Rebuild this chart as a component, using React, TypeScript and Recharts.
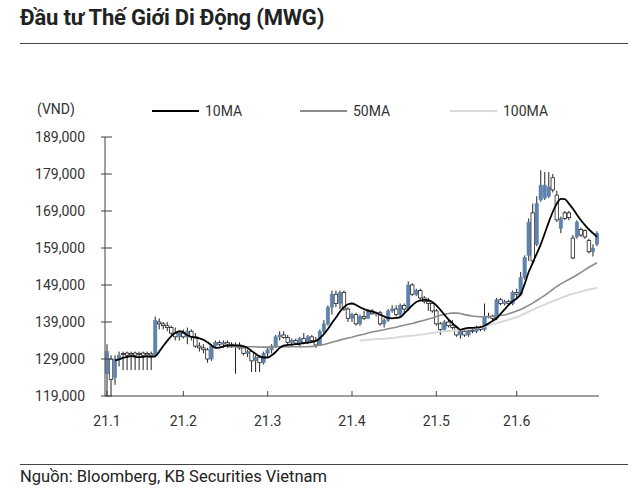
import React from 'react'
import { ComposedChart, Bar, Line, XAxis, YAxis } from 'recharts'

// daily prices, thousand VND
const open = [
    125, 129, 124, 129, 130.5, 130.6, 130.5, 130.6, 130.5, 130.6, 130.5, 130.4, 130, 139, 138.5, 138, 137.5, 136, 135, 136,
    135, 136.5, 135, 132.5, 132, 131.5, 129, 132.5, 133.5, 133, 133.5, 133, 132.5, 132.8, 132, 130.5, 131, 128.5, 129.5, 128, 130.5,
    131.5, 132.5, 135, 135.5, 134.8, 133.5, 134, 133.3, 134.5, 133.5, 135, 134, 132.8, 136.5, 138.5, 143, 146.5, 144, 147, 142.5,
    140, 141, 138.5, 140.5, 140, 142, 141.2, 141.5, 138.5, 139.5, 142, 142.5, 141, 143.5, 142.5, 149, 146.5, 147.5, 145.5, 144.5, 144,
    142, 138.5, 137, 139, 138, 137.5, 135.5, 136.5, 135.5, 136.8, 136.5, 137.5, 137, 140.5, 140.5, 140, 145, 144, 144.5, 144, 147,
    146.5, 151, 157, 168.5, 160, 172, 172.5, 173, 178, 173.3, 164.3, 168.5, 168.5, 161.7, 162, 164, 163.7, 161, 158, 160
]
const high = [
    133, 130, 130, 131, 131, 131, 131, 131, 131, 131, 131, 131, 140.5, 140, 139, 139, 138, 137.5, 136.5, 137,
    137.5, 137, 136, 133.5, 133, 132, 133, 134, 134, 134, 134, 133.5, 133.5, 133.5, 132.5, 131.5, 131.5, 130, 130, 131, 132,
    133, 135.5, 136.5, 136.5, 135.5, 134.5, 134.5, 135, 136, 135.5, 135.5, 135, 137, 139.5, 143.5, 147.5, 147.5, 147.5, 147.5, 143,
    141.5, 141.5, 141, 142, 142.5, 142.5, 141.8, 142, 140, 142.5, 143.5, 143.5, 144, 144, 150, 149.5, 148, 148, 146, 145.5, 144.5,
    142.5, 139, 139.5, 139.5, 139.5, 138, 137, 137, 137, 137.5, 138, 138, 144, 141.5, 141, 145.5, 145.5, 145, 145, 147.5, 148,
    152.5, 157, 167, 171, 173, 180, 179.5, 179.5, 179, 174.5, 167.5, 169, 169, 162.5, 166.5, 164.5, 164, 161.5, 160, 163.5
]
const low = [
    119, 119, 122, 127, 126, 126, 126, 126, 126, 126, 126, 126, 129.5, 137, 137, 136.5, 135.5, 134, 134, 134.5,
    133, 134, 132, 131, 130.5, 128, 128.5, 132, 132.5, 132, 132, 132, 125, 131.5, 130, 129.5, 125.5, 125.5, 125.5, 127.5, 129.5,
    130.5, 132, 134, 134.5, 133, 132.5, 133, 132.5, 133, 133, 133.5, 132, 132.5, 136, 138, 141, 143, 142.5, 142, 139,
    139, 138, 138, 139.5, 140, 141, 140.5, 138, 137.5, 139, 141.5, 140.5, 140.5, 141.5, 142, 146, 146, 145, 144, 142, 141.5,
    138, 135.5, 136.5, 137.5, 137, 135, 134.5, 135, 135, 136, 136, 136.5, 136.5, 140, 139.5, 139.5, 143.5, 143.5, 143.5, 143.5, 145,
    146, 150.5, 155.5, 154.5, 159.5, 171.5, 172, 172.5, 174, 166, 163, 166.5, 166.5, 156, 161.5, 162, 161.5, 157.5, 156.7, 159.5
]
const close = [
    131, 123.5, 129, 130, 130.2, 130, 130.1, 130, 130.2, 130, 130.1, 130, 139.5, 138.5, 138, 137.5, 136, 135, 136, 135,
    136.5, 135, 132.5, 132, 131.5, 129, 132.5, 133.5, 133, 133.5, 133, 132.5, 132.8, 132, 130.5, 131, 128.5, 129.5, 128, 130.5, 131.5,
    132.5, 135, 135.5, 134.8, 133.5, 134, 133.3, 134.5, 133.5, 135, 134, 132.8, 136.5, 138.5, 143, 146.5, 144, 147, 142.5, 140,
    141, 138.5, 140.5, 140, 142, 141.2, 141.5, 138.5, 139.5, 142, 142.5, 141, 143.5, 142.5, 149, 146.5, 147.5, 145.5, 144.5, 144, 142,
    138.5, 137, 139, 138, 137.5, 135.5, 136.5, 135.5, 136.8, 136.5, 137.5, 137, 140.5, 140.5, 140, 145, 144, 144.5, 144, 147, 146.5,
    151, 156.5, 166, 155.5, 171, 176, 176, 175.5, 174.7, 166.6, 167, 167, 167.2, 156.3, 166, 162.5, 162, 158, 159, 163
]

// moving averages
const ma10 = [
    null, null, 128.6, 128.9, 129.3, 129.6, 129.8, 129.6, 129.5, 129.6, 129.7, 129.6, 129.7, 131.0, 132.5, 133.9, 135.2, 136.0, 136.5, 136.2,
    135.4, 135.0, 134.8, 134.6, 134.2, 133.5, 132.7, 132.0, 132.1, 132.4, 132.6, 132.7, 132.7, 132.6, 132.5, 132.0, 131.2, 130.4, 129.7, 129.4, 129.4,
    130.0, 130.9, 132.0, 132.6, 132.8, 132.9, 133.0, 133.1, 133.3, 133.4, 133.6, 133.9, 134.6, 135.7, 137.1, 138.7, 140.2, 141.8, 143.0, 143.8,
    144.0, 143.6, 143.0, 142.5, 142.1, 141.8, 141.5, 141.0, 140.5, 140.1, 140.0, 140.1, 140.3, 141.3, 142.4, 143.5, 144.4, 144.8, 145.0, 144.9, 144.4,
    143.5, 142.3, 141.0, 139.7, 138.7, 137.7, 136.9, 137.2, 137.4, 137.4, 137.5, 137.6, 138.0, 138.6, 139.3, 140.0, 141.2, 142.4, 143.6, 144.6, 145.4,
    146.5, 149.3, 152.5, 155.0, 157.5, 160.0, 163.0, 166.0, 168.8, 171.0, 172.3, 172.2, 171.0, 169.6, 168.0, 166.5, 165.2, 164.0, 163.0, 162.0
]
const ma50 = [
    null, null, null, null, null, null, null, null, null, null, null, null, null, null, null, null, null, null, null, null,
    null, null, null, null, null, null, null, null, null, null, 132.3, 132.3, 132.3, 132.3, 132.3, 132.3, 132.3, 132.3, 132.2, 132.2, 132.2,
    132.2, 132.3, 132.3, 132.3, 132.3, 132.3, 132.3, 132.3, 132.3, 132.3, 132.4, 132.5, 132.7, 132.9, 133.2, 133.5, 133.8, 134.1, 134.4, 134.7,
    134.9, 135.2, 135.5, 135.7, 136.0, 136.3, 136.5, 136.7, 136.9, 137.2, 137.4, 137.6, 137.9, 138.1, 138.4, 138.6, 138.9, 139.2, 139.5, 139.8, 140.1,
    140.5, 140.8, 141.1, 141.3, 141.4, 141.4, 141.3, 141.0, 140.8, 140.6, 140.5, 140.4, 140.4, 140.5, 140.6, 140.7, 140.8, 140.9, 141.2, 141.6, 142.0,
    142.4, 142.9, 143.5, 144.1, 144.8, 145.5, 146.2, 147.0, 147.8, 148.6, 149.3, 149.9, 150.5, 151.1, 151.7, 152.4, 153.1, 153.8, 154.4, 155.0
]
const ma100 = [
    null, null, null, null, null, null, null, null, null, null, null, null, null, null, null, null, null, null, null, null,
    null, null, null, null, null, null, null, null, null, null, null, null, null, null, null, null, null, null, null, null, null,
    null, null, null, null, null, null, null, null, null, null, null, null, null, null, null, null, null, null, null, null,
    null, null, 134.0, 134.1, 134.2, 134.3, 134.4, 134.4, 134.5, 134.6, 134.7, 134.8, 135.0, 135.1, 135.2, 135.3, 135.4, 135.6, 135.7, 135.9, 136.0,
    136.2, 136.4, 136.5, 136.6, 136.7, 136.8, 136.9, 137.0, 137.1, 137.3, 137.4, 137.6, 137.8, 138.1, 138.4, 138.7, 139.0, 139.3, 139.6, 140.0, 140.3,
    140.8, 141.3, 141.8, 142.3, 142.8, 143.3, 143.7, 144.2, 144.6, 145.0, 145.5, 145.9, 146.3, 146.6, 146.9, 147.2, 147.5, 147.8, 148.0, 148.2
]

// month labels on the x axis (index of the first session shown)
const monthIdx = [0, 19, 40, 61, 82, 102]
const monthLabels = ['21.1', '21.2', '21.3', '21.4', '21.5', '21.6']
const yTicks = [119000, 129000, 139000, 149000, 159000, 169000, 179000, 189000]

const BLUE = '#5f83ad'
const AXIS = '#404040'
const FONT = 'Roboto, "Noto Sans", sans-serif'

const rows = open.map((o, i) => ({
    i,
    open: o * 1000,
    high: high[i] * 1000,
    low: low[i] * 1000,
    close: close[i] * 1000,
    range: [low[i] * 1000, high[i] * 1000],
    ma10: ma10[i] == null ? null : (ma10[i] as number) * 1000,
    ma50: ma50[i] == null ? null : (ma50[i] as number) * 1000,
    ma100: ma100[i] == null ? null : (ma100[i] as number) * 1000
}))

// candle drawn inside the [low, high] bar box
function Candle(props: any) {
    const { x, y, width, height, payload } = props
    if (x == null || y == null) return null
    const top = Math.min(y, y + height)
    const h = Math.abs(height)
    const span = payload.high - payload.low
    const k = span > 0 ? h / span : 0
    const yO = top + (payload.high - payload.open) * k
    const yC = top + (payload.high - payload.close) * k
    const cx = x + width / 2
    const bw = Math.max(width - 0.5, 2)
    const up = payload.close >= payload.open
    const bTop = Math.min(yO, yC)
    const bH = Math.max(Math.abs(yC - yO), 1)
    return (
        <g>
            <line x1={cx} x2={cx} y1={top} y2={top + h} stroke="#222" strokeWidth={1} />
            <rect
                x={cx - bw / 2}
                y={bTop}
                width={bw}
                height={bH}
                fill={up ? BLUE : '#fff'}
                stroke={up ? BLUE : '#222'}
                strokeWidth={up ? 0.5 : 0.8}
            />
        </g>
    )
}

const YTick = ({ x, y, payload }: any) => (
    <g>
        <line x1={x + 16} x2={x + 27} y1={y} y2={y} stroke={AXIS} />
        <text x={x} y={y} dy="0.35em" textAnchor="end" fontSize={14} fill="#333" fontFamily={FONT}>
            {Number(payload.value).toLocaleString('en-US')}
        </text>
    </g>
)

const XTick = ({ x, y, payload }: any) => {
    const k = monthIdx.indexOf(payload.value)
    return (
        <g>
            <line x1={x} x2={x} y1={y - 20} y2={y - 25} stroke={AXIS} />
            <text x={x} y={y} dy="0.71em" textAnchor="middle" fontSize={14} fill="#333" fontFamily={FONT}>
                {k >= 0 ? monthLabels[k] : ''}
            </text>
        </g>
    )
}

const legendItems = [
    { name: '10MA', color: '#000', left: 152 },
    { name: '50MA', color: '#8a8a8a', left: 300 },
    { name: '100MA', color: '#d9d9d9', left: 450 }
]

export default function App() {
    return (
        <div style={{ position: 'absolute', left: 0, top: 0, width: 640, height: 491, background: '#fff', overflow: 'hidden', fontFamily: FONT, color: '#222' }}>
            <div style={{ position: 'absolute', left: 20, top: 5, fontSize: 22, fontWeight: 700, letterSpacing: -0.2 }}>
                Đầu tư Thế Giới Di Động (MWG)
            </div>
            <div style={{ position: 'absolute', left: 20, top: 43, width: 608, height: 1, background: '#444' }} />

            <div style={{ position: 'absolute', left: 37, top: 101, fontSize: 14, color: '#333' }}>(VND)</div>
            {legendItems.map((it) => (
                <div key={it.name} style={{ position: 'absolute', left: it.left, top: 103, display: 'flex', alignItems: 'center', fontSize: 14, color: '#333' }}>
                    <span style={{ display: 'inline-block', width: 47, height: 2, background: it.color, marginRight: 6 }} />
                    {it.name}
                </div>
            ))}

            <div style={{ position: 'absolute', left: 0, top: 0 }}>
                <ComposedChart width={640} height={491} data={rows} margin={{ top: 137, right: 41, bottom: 65, left: 45 }} barCategoryGap={0}>
                    <XAxis
                        dataKey="i"
                        ticks={monthIdx}
                        interval={0}
                        tick={<XTick />}
                        tickLine={false}
                        tickSize={0}
                        tickMargin={20}
                        height={30}
                        axisLine={{ stroke: AXIS }}
                    />
                    <YAxis
                        domain={[119000, 189000]}
                        ticks={yTicks}
                        interval={0}
                        allowDataOverflow
                        tick={<YTick />}
                        tickLine={false}
                        tickSize={0}
                        tickMargin={20}
                        width={60}
                        axisLine={{ stroke: AXIS }}
                    />
                    <Line dataKey="ma100" stroke="#d9d9d9" strokeWidth={2} dot={false} isAnimationActive={false} connectNulls={false} />
                    <Line dataKey="ma50" stroke="#8a8a8a" strokeWidth={1.6} dot={false} isAnimationActive={false} connectNulls={false} />
                    <Bar dataKey="range" shape={<Candle />} isAnimationActive={false} />
                    <Line dataKey="ma10" type="monotone" stroke="#000" strokeWidth={1.8} dot={false} isAnimationActive={false} connectNulls={false} />
                </ComposedChart>
            </div>

            <div style={{ position: 'absolute', left: 20, top: 464, width: 608, height: 1, background: '#444' }} />
            <div style={{ position: 'absolute', left: 20, top: 467, fontSize: 16.5, color: '#222' }}>
                Nguồn: Bloomberg, KB Securities Vietnam
            </div>
        </div>
    )
}
